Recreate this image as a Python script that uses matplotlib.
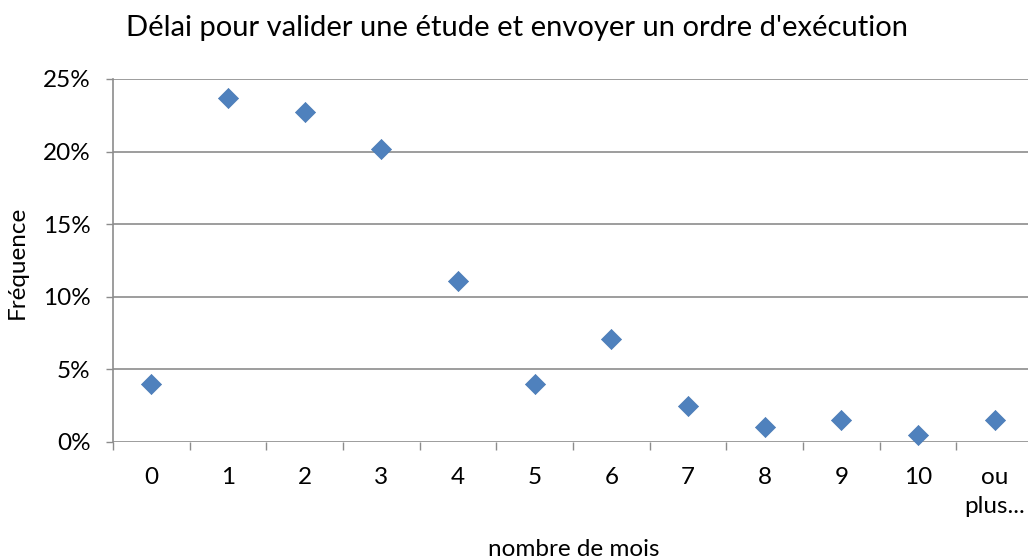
import matplotlib.pyplot as plt
import numpy as np

### data ###
categories = ['0', '1', '2', '3', '4', '5', '6', '7', '8', '9', '10', 'ou\nplus...']
frequences = [4.0, 23.7, 22.7, 20.2, 11.1, 4.0, 7.1, 2.5, 1.0, 1.5, 0.5, 1.5]  # %
y_ticks = [0, 5, 10, 15, 20, 25]

plt.rcParams['font.family'] = ['Lato', 'DejaVu Sans']
grid_col = '#8c8c8c'

fig = plt.figure(figsize=(10.28, 5.6), dpi=100)
ax = fig.add_axes([113 / 1028, 118 / 560, 920 / 1028, 363 / 560])

x = np.arange(len(categories))
ax.scatter(x, frequences, marker='D', s=105, color='#4f81bd',
           edgecolor='#4a7ab5', linewidth=0.5, zorder=3, clip_on=False)

ax.set_xlim(-0.5, len(categories) - 0.5)
ax.set_ylim(0, 25)
ax.set_yticks(y_ticks)
ax.set_yticklabels([f'{v}%' for v in y_ticks])
ax.set_xticks(x)
ax.set_xticklabels(categories, va='top', linespacing=1.45)
ax.set_xticks(np.arange(len(categories) + 1) - 0.5, minor=True)

ax.tick_params(axis='x', which='major', length=0, pad=18, labelsize=17.5)
ax.tick_params(axis='x', which='minor', length=6, width=1.0, color=grid_col, direction='out')
ax.tick_params(axis='y', length=5, width=1.0, color=grid_col, direction='out', pad=11, labelsize=17.5)

for v in y_ticks:
    ax.axhline(v, color=grid_col, linewidth=1.2, zorder=1)
for s in ['top', 'right', 'bottom']:
    ax.spines[s].set_visible(False)
ax.spines['left'].set_color(grid_col)
ax.spines['left'].set_linewidth(1.2)

fig.text(517 / 1028, 1 - 28 / 560, "Délai pour valider une étude et envoyer un ordre d'exécution",
         ha='center', va='center', fontsize=21)
fig.text(17 / 1028, 1 - 262 / 560, 'Fréquence', rotation=90, ha='center', va='center', fontsize=17.5)
fig.text(574 / 1028, 1 - 549 / 560, 'nombre de mois', ha='center', va='center', fontsize=17.5)

fig.savefig('out.png', dpi=100)
